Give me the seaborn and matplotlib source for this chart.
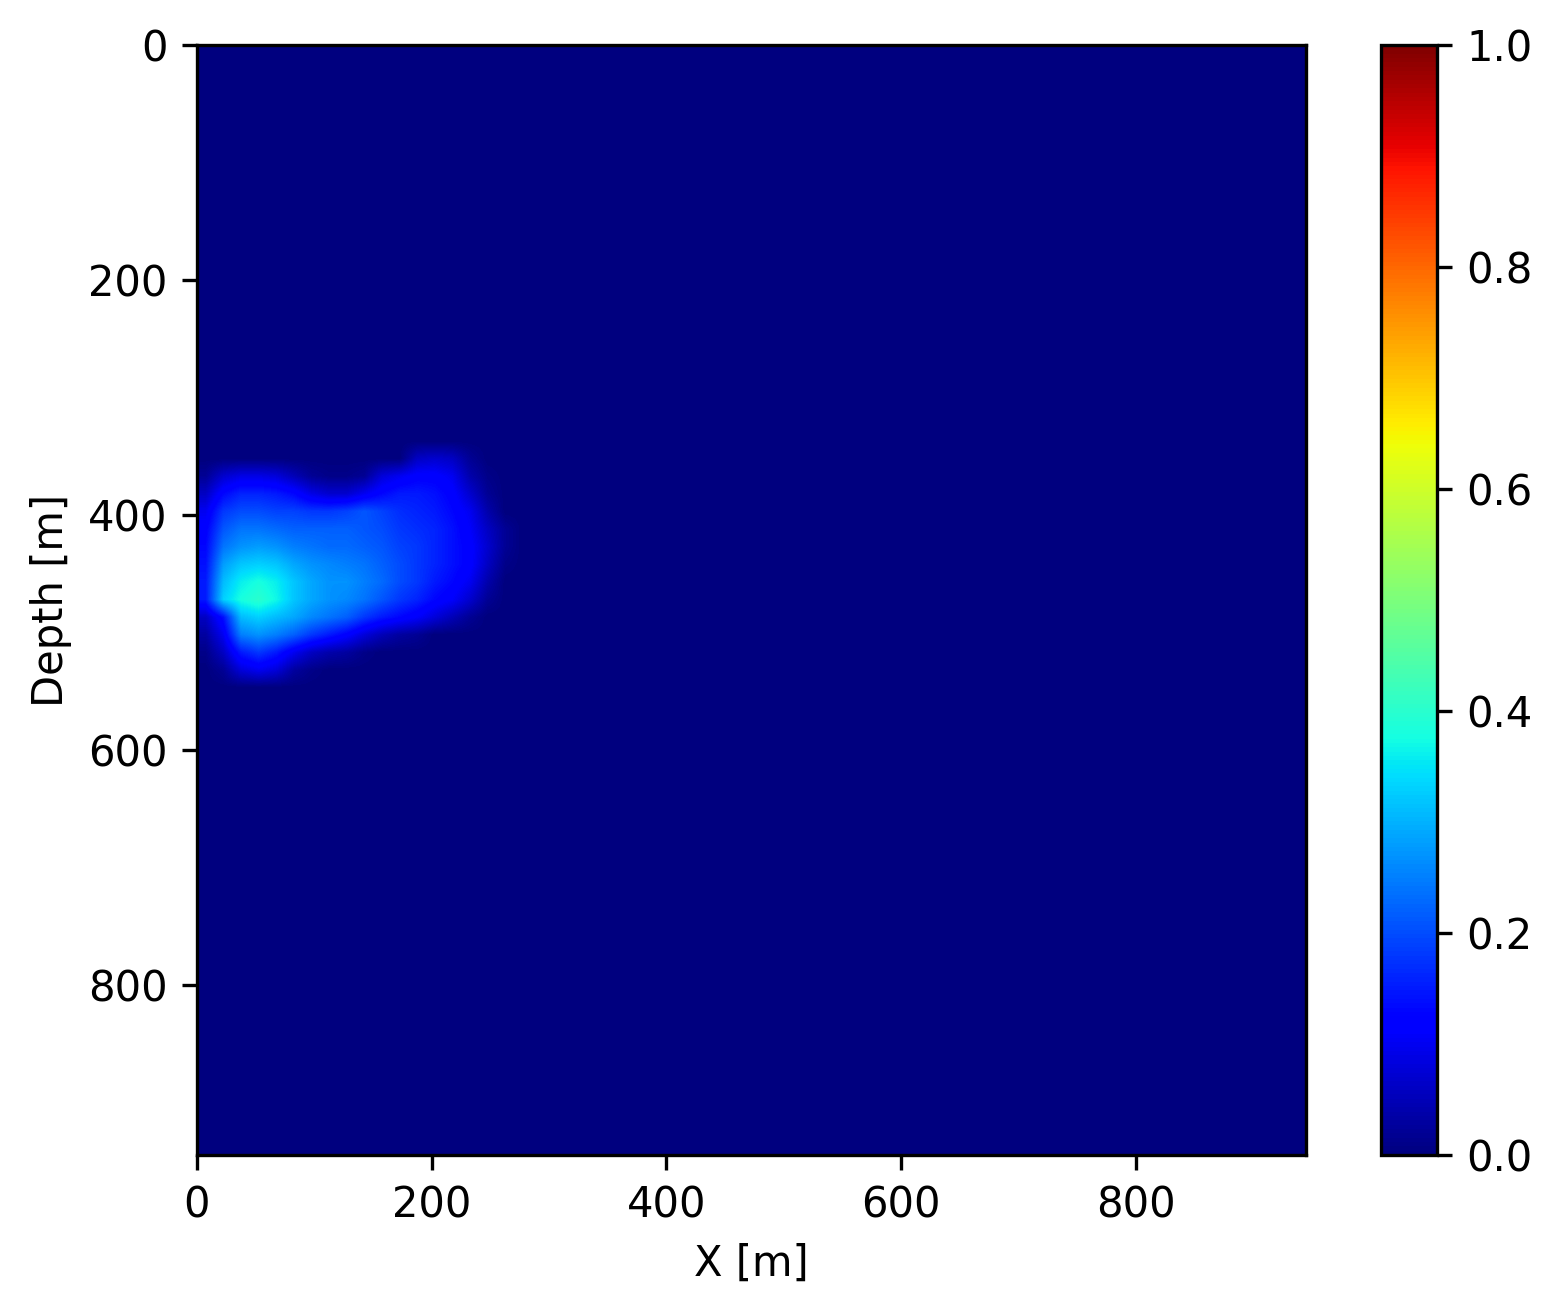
import matplotlib
matplotlib.use('Agg')
import matplotlib.pyplot as plt
import seaborn as sns
import numpy as np

# model grid: 63 x 63 cells of 15 m
n_cells = 63
cell = 15.0
size = n_cells * cell

plume_row0 = 23
plume = [
    [0, 0, 0, 0, 0, 0, 0, 0, 0, 0, 0, 0, 0.06, 0.07, 0.06, 0.02, 0, 0],
    [0.02, 0.07, 0.09, 0.09, 0.08, 0.05, 0.02, 0.01, 0.01, 0.02, 0.08, 0.10, 0.12, 0.12, 0.10, 0.04, 0.01, 0],
    [0.06, 0.13, 0.16, 0.16, 0.15, 0.13, 0.09, 0.07, 0.07, 0.10, 0.13, 0.15, 0.15, 0.14, 0.12, 0.07, 0.02, 0],
    [0.10, 0.18, 0.20, 0.20, 0.19, 0.19, 0.18, 0.18, 0.19, 0.21, 0.19, 0.17, 0.16, 0.15, 0.13, 0.10, 0.04, 0],
    [0.12, 0.21, 0.24, 0.24, 0.23, 0.22, 0.22, 0.22, 0.22, 0.21, 0.20, 0.18, 0.17, 0.16, 0.14, 0.11, 0.06, 0.02],
    [0.13, 0.24, 0.27, 0.28, 0.27, 0.25, 0.24, 0.23, 0.23, 0.22, 0.21, 0.19, 0.18, 0.16, 0.14, 0.12, 0.07, 0.02],
    [0.14, 0.28, 0.32, 0.33, 0.32, 0.29, 0.27, 0.26, 0.25, 0.24, 0.22, 0.20, 0.18, 0.16, 0.14, 0.12, 0.06, 0.01],
    [0.15, 0.31, 0.36, 0.38, 0.36, 0.32, 0.29, 0.27, 0.27, 0.25, 0.23, 0.20, 0.18, 0.15, 0.13, 0.10, 0.04, 0],
    [0.15, 0.33, 0.38, 0.40, 0.37, 0.32, 0.29, 0.27, 0.26, 0.24, 0.21, 0.18, 0.16, 0.13, 0.11, 0.07, 0.02, 0],
    [0.06, 0.14, 0.31, 0.33, 0.31, 0.29, 0.26, 0.24, 0.22, 0.18, 0.15, 0.13, 0.11, 0.08, 0.05, 0.02, 0, 0],
    [0.03, 0.10, 0.25, 0.27, 0.25, 0.22, 0.18, 0.15, 0.12, 0.08, 0.05, 0.03, 0.02, 0, 0, 0, 0, 0],
    [0.01, 0.06, 0.15, 0.18, 0.15, 0.10, 0.06, 0.04, 0.03, 0.01, 0, 0, 0, 0, 0, 0, 0, 0],
    [0, 0.02, 0.08, 0.10, 0.08, 0.03, 0.01, 0, 0, 0, 0, 0, 0, 0, 0, 0, 0, 0],
]

sat = np.zeros((n_cells, n_cells))
p = np.array(plume)
sat[plume_row0:plume_row0 + p.shape[0], :p.shape[1]] = p

sns.reset_orig()
cmap = plt.get_cmap('jet')

fig = plt.figure(figsize=(1561 / 300, 1315 / 300), dpi=300)
ax = fig.add_axes([197 / 1561, 1 - 1155 / 1315, 1109 / 1561, 1110 / 1315])
cax = fig.add_axes([1381 / 1561, 1 - 1155 / 1315, 56 / 1561, 1110 / 1315])

im = ax.imshow(sat, cmap=cmap, vmin=0, vmax=1, extent=[0, size, size, 0],
               interpolation='bilinear', aspect='auto')
ax.set_xlabel('X [m]')
ax.set_ylabel('Depth [m]')
ax.set_xticks([0, 200, 400, 600, 800])
ax.set_yticks([0, 200, 400, 600, 800])
fig.colorbar(im, cax=cax)

fig.savefig('out.png', dpi=300)
